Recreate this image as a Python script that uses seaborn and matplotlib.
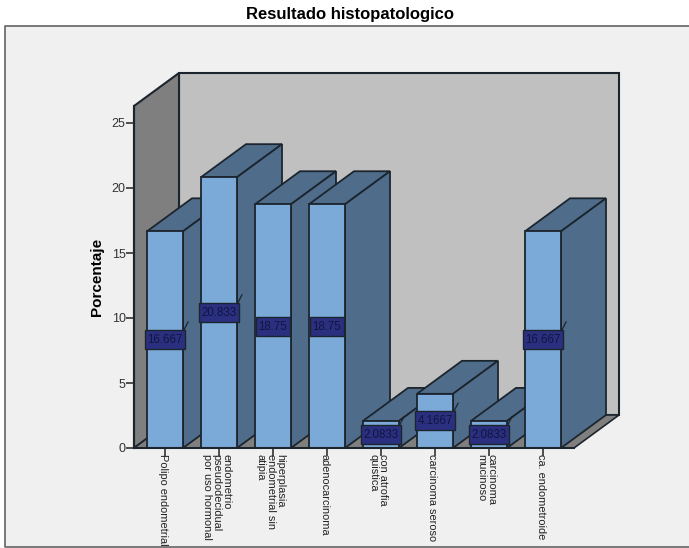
import matplotlib
matplotlib.use("Agg")
import matplotlib.pyplot as plt
from matplotlib.lines import Line2D
from matplotlib.patches import Polygon, Rectangle
from matplotlib.transforms import ScaledTranslation
import seaborn as sns

# Values
categories = [
    "Polipo endometrial",
    "endometrio\npseudodecidual\npor uso hormonal",
    "hiperplasia\nendometrial sin\natipia",
    "adenocarcinoma",
    "con atrofia\nquistica",
    "carcinoma seroso",
    "carcinoma\nmucinoso",
    "ca. endometroide",
]
porcentaje = [16.667, 20.833, 18.75, 18.75, 2.0833, 4.1667, 2.0833, 16.667]
bar_labels = ["16.667", "20.833", "18.75", "18.75", "2.0833", "4.1667", "2.0833", "16.667"]
y_ticks = [0, 5, 10, 15, 20, 25]

W, H = 689, 548
FRONT = "#7BA9D8"
SIDE = "#4F6D8B"
WALL_DARK = "#7F7F7F"
WALL_LIGHT = "#C0C0C0"
EDGE = "#1C252E"
BOX = "#2A2F80"
PANEL_LINE = "#6E6E6E"

sns.set_style("ticks")
plt.rcParams["font.family"] = ["Liberation Sans", "DejaVu Sans"]

fig = plt.figure(figsize=(W / 100, H / 100), dpi=100, facecolor="white")

# grey panel behind the chart, open on the right side
fig.add_artist(Rectangle((5 / W, 1 - 546.5 / H), 684 / W, 520.5 / H, transform=fig.transFigure,
                         facecolor="#F0F0F0", edgecolor="none", zorder=-2))
fig.add_artist(Line2D([1, 5 / W, 5 / W, 1],
                      [1 - 26 / H, 1 - 26 / H, 1 - 546.5 / H, 1 - 546.5 / H],
                      transform=fig.transFigure, color=PANEL_LINE, linewidth=1.3, zorder=-1))
fig.text(350 / W, 1 - 14.5 / H, "Resultado histopatologico", ha="center", va="center",
         fontsize=12, fontweight="bold", color="black")

ax = fig.add_axes([134 / W, 1 - 448 / H, 440 / W, 342 / H])
ax.patch.set_alpha(0)

sns.barplot(x=categories, y=porcentaje, color=FRONT, saturation=1, width=36 / 54,
            edgecolor=EDGE, linewidth=1.3, ax=ax)
ax.set_xlim(-31 / 54, 409 / 54)
ax.set_ylim(0, 342 / 13)

# depth of the fake 3D box, in data units
dx = 45 / 54
dy = 33 / 13
x0, x1 = ax.get_xlim()
y1 = ax.get_ylim()[1]

# walls and floor
ax.add_patch(Polygon([(x0 + dx, dy), (x1 + dx, dy), (x1 + dx, y1 + dy), (x0 + dx, y1 + dy)],
                     facecolor=WALL_LIGHT, edgecolor=EDGE, linewidth=1.5, clip_on=False, zorder=0.5))
ax.add_patch(Polygon([(x0, 0), (x0 + dx, dy), (x0 + dx, y1 + dy), (x0, y1)],
                     facecolor=WALL_DARK, edgecolor=EDGE, linewidth=1.5, clip_on=False, zorder=0.6))
ax.add_patch(Polygon([(x0, 0), (x1, 0), (x1 + dx, dy), (x0 + dx, dy)],
                     facecolor=WALL_DARK, edgecolor=EDGE, linewidth=1.2, clip_on=False, zorder=0.7))

# top and side of each bar, then its front, left to right
for i, bar in enumerate(ax.patches[:len(porcentaje)]):
    left, right, top = bar.get_x(), bar.get_x() + bar.get_width(), bar.get_height()
    z = 3 + i
    ax.add_patch(Polygon([(left, top), (right, top), (right + dx, top + dy), (left + dx, top + dy)],
                         facecolor=SIDE, edgecolor=EDGE, linewidth=1.3, clip_on=False, zorder=z))
    ax.add_patch(Polygon([(right, 0), (right + dx, dy), (right + dx, top + dy), (right, top)],
                         facecolor=SIDE, edgecolor=EDGE, linewidth=1.3, clip_on=False, zorder=z))
    bar.set_zorder(z + 0.5)

# value boxes at half height of each bar, as wide as their text
box_h = 19 / 13
renderer = fig.canvas.get_renderer()
for i, (val, lab) in enumerate(zip(porcentaje, bar_labels)):
    mid = val / 2
    txt = ax.text(i, mid - 0.03, lab, ha="center", va="center", fontsize=8.3, color="#12153F", zorder=21)
    box_w = (txt.get_window_extent(renderer).width + 4.5) / 54
    ax.add_patch(Rectangle((i - box_w / 2, mid - box_h / 2), box_w, box_h, facecolor=BOX,
                           edgecolor=EDGE, linewidth=1.0, zorder=20, clip_on=False))
    if len(lab) > 5:
        ax.plot([i + box_w / 2 - 0.02, i + box_w / 2 + 0.06], [mid + box_h / 2, mid + box_h / 2 + 0.65],
                color=EDGE, linewidth=0.9, zorder=19, clip_on=False)

for s in ["top", "right"]:
    ax.spines[s].set_visible(False)
for s in ["left", "bottom"]:
    ax.spines[s].set_linewidth(1.5)
    ax.spines[s].set_color(EDGE)
    ax.spines[s].set_zorder(30)

ax.set_yticks(y_ticks)
ax.tick_params(axis="y", length=6, width=1.2, color="#333333", labelsize=9, labelcolor="#333333", pad=0)
ax.tick_params(axis="x", length=6, width=1.2, color="#333333", labelsize=7.9, labelcolor="#222222", pad=-2)
ax.set_xticks(range(len(categories)))
ax.set_xticklabels(categories, rotation=-90, ha="center", va="top", multialignment="left",
                   linespacing=0.95)
# labels sit slightly left of their ticks
shift = ScaledTranslation(-2.5 / 100, 0, fig.dpi_scale_trans)
for lab in ax.get_xticklabels():
    lab.set_transform(lab.get_transform() + shift)
ax.set_ylabel("Porcentaje", fontsize=11, fontweight="bold", color="black")
ax.yaxis.set_label_coords(-30 / 440, 0.5)

plt.savefig("out.png", dpi=100, facecolor=fig.get_facecolor())
plt.close()
print("Saved out.png")
